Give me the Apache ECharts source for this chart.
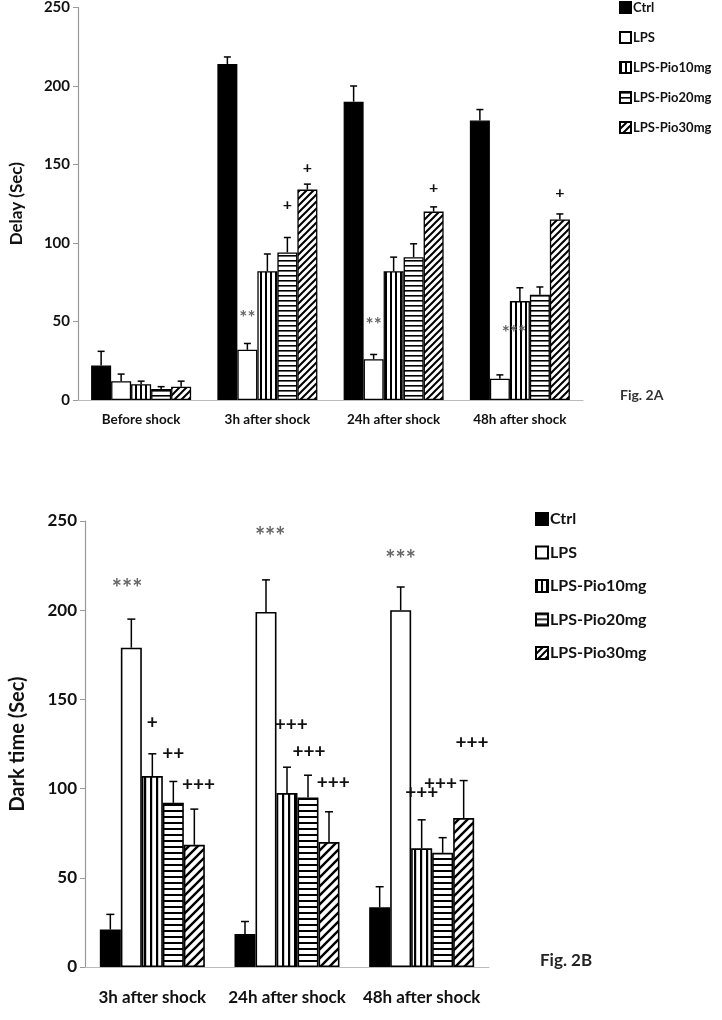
<!DOCTYPE html>
<html><head><meta charset="utf-8">
<script src="https://cdn.jsdelivr.net/npm/echarts@6/dist/echarts.min.js"></script>
<style>html,body{margin:0;padding:0;background:#fff}#c{width:722px;height:1020px}</style>
</head><body><div id="c"></div>
<script>
// ---------- data ----------
const groups = ['Ctrl', 'LPS', 'LPS-Pio10mg', 'LPS-Pio20mg', 'LPS-Pio30mg'];
// Fig. 2A — Delay (Sec)
const catsA = ['Before shock', '3h after shock', '24h after shock', '48h after shock'];
const delayCtrl = [22, 214, 190, 178];
const delayLPS  = [12, 32, 26, 13.5];
const delay10   = [10, 82, 82, 63];
const delay20   = [7, 94, 91, 67];
const delay30   = [8.5, 134, 120, 115];
const delayErrCtrl = [9, 4.5, 10, 7];
const delayErrLPS  = [4.5, 4, 3, 2.5];
const delayErr10   = [2, 11, 9, 8.5];
const delayErr20   = [1.5, 9.5, 8.5, 5];
const delayErr30   = [3.5, 3.5, 3, 3.5];
// annotations A: [category, bar index, level(value), text]
const annotA = [
  [1, 1, 52, '**'], [1, 3, 124, '+'], [1, 4, 148, '+'],
  [2, 1, 48, '**'], [2, 4, 135, '+'],
  [3, 1.7, 43, '***'], [3, 4, 132, '+']
];
// Fig. 2B — Dark time (Sec)
const catsB = ['3h after shock', '24h after shock', '48h after shock'];
const darkCtrl = [21, 18.5, 33.5];
const darkLPS  = [179, 199, 200];
const dark10   = [107, 97.5, 66.5];
const dark20   = [92, 95, 64];
const dark30   = [68.5, 70, 83.5];
const darkErrCtrl = [8.5, 7, 11.5];
const darkErrLPS  = [16, 18, 13];
const darkErr10   = [12.5, 14.5, 16];
const darkErr20   = [12, 12.5, 8.5];
const darkErr30   = [20, 17, 21];
const annotB = [
  [0, 0.8, 212, '***'], [0, 2, 137, '+'], [0, 3, 119.5, '++'], [0, 4.2, 102, '+++'],
  [1, 1.2, 241, '***'], [1, 2.2, 136, '+++'], [1, 3.05, 120.5, '+++'], [1, 4.2, 103, '+++'],
  [2, 1, 228, '***'], [2, 2, 97.5, '+++'], [2, 2.9, 102.5, '+++'], [2, 4.4, 125.5, '+++']
];
const yTicks = [0, 50, 100, 150, 200, 250];

// ---------- patterns ----------
function pat(kind, p, lw) {
  const c = document.createElement('canvas');
  c.width = p; c.height = p;
  const g = c.getContext('2d');
  g.fillStyle = '#fff'; g.fillRect(0, 0, p, p);
  g.fillStyle = '#000'; g.strokeStyle = '#000'; g.lineWidth = lw;
  if (kind === 'v') g.fillRect(0, 0, lw, p);
  else if (kind === 'h') g.fillRect(0, 0, p, lw);
  else {
    g.beginPath();
    g.moveTo(-1, p + 1); g.lineTo(p + 1, -1);
    g.moveTo(-p / 2 - 1, p / 2 + 1); g.lineTo(p / 2 + 1, -p / 2 - 1);
    g.moveTo(p / 2 - 1, p * 1.5 + 1); g.lineTo(p * 1.5 + 1, p / 2 - 1);
    g.stroke();
  }
  return { image: c, repeat: 'repeat' };
}
const fillsA = ['#000', '#fff', pat('v', 5, 2), pat('h', 5, 1.6), pat('d', 7, 2)];
const fillsB = ['#000', '#fff', pat('v', 6, 2.2), pat('h', 6.5, 2), pat('d', 9, 2.4)];

const FONT = 'Lato, "Open Sans", sans-serif';
const valsA = [delayCtrl, delayLPS, delay10, delay20, delay30];
const errsA = [delayErrCtrl, delayErrLPS, delayErr10, delayErr20, delayErr30];
const valsB = [darkCtrl, darkLPS, dark10, dark20, dark30];
const errsB = [darkErrCtrl, darkErrLPS, darkErr10, darkErr20, darkErr30];

function errData(vals, errs) {
  const out = [];
  vals.forEach((arr, s) => arr.forEach((v, c) => out.push([c, s, v, errs[s][c]])));
  return out;
}
function errRender(barW, cap) {
  return function (params, api) {
    const c = api.value(0), s = api.value(1), v = api.value(2), e = api.value(3);
    const p0 = api.coord([c, v]), p1 = api.coord([c, v + e]);
    const x = p0[0] + (s - 2) * barW;
    const st = { stroke: '#000', lineWidth: 1.5 };
    return { type: 'group', children: [
      { type: 'line', shape: { x1: x, y1: p0[1], x2: x, y2: p1[1] }, style: st },
      { type: 'line', shape: { x1: x - cap, y1: p1[1], x2: x + cap, y2: p1[1] }, style: st }
    ]};
  };
}
const annotRef = { annA: annotA, annB: annotB };
function annRender(barW, sizeStar, sizePlus) {
  return function (params, api) {
    const c = api.value(0), b = api.value(1), lv = api.value(2);
    const t = annotRef[params.seriesName][params.dataIndex][3];
    const p = api.coord([c, lv]);
    const star = t.indexOf('*') >= 0;
    return { type: 'text', x: p[0] + (b - 2) * barW, y: p[1],
      style: { text: t, align: 'center', verticalAlign: 'middle',
        font: 'bold ' + (star ? sizeStar : sizePlus) + 'px ' + FONT,
        fill: star ? '#666' : '#111' } };
  };
}

const series = [];
groups.forEach((g, i) => {
  series.push({ name: g, type: 'bar', xAxisIndex: 0, yAxisIndex: 0, data: valsA[i],
    barWidth: 20, barGap: '0%', itemStyle: { color: fillsA[i], borderColor: '#000', borderWidth: 1.3 } });
});
groups.forEach((g, i) => {
  series.push({ name: g, type: 'bar', xAxisIndex: 1, yAxisIndex: 1, data: valsB[i],
    barWidth: 21, barGap: '0%', itemStyle: { color: fillsB[i], borderColor: '#000', borderWidth: 1.6 } });
});
series.push({ name: 'errA', type: 'custom', xAxisIndex: 0, yAxisIndex: 0, data: errData(valsA, errsA),
  encode: { x: 0, y: 2 }, renderItem: errRender(20, 3.5), z: 5, silent: true });
series.push({ name: 'errB', type: 'custom', xAxisIndex: 1, yAxisIndex: 1, data: errData(valsB, errsB),
  encode: { x: 0, y: 2 }, renderItem: errRender(21, 4), z: 5, silent: true });
series.push({ name: 'annA', type: 'custom', xAxisIndex: 0, yAxisIndex: 0, data: annotA.map(a => [a[0], a[1], a[2]]),
  encode: { x: 0, y: 2 }, renderItem: annRender(20, 19, 16), z: 6, silent: true });
series.push({ name: 'annB', type: 'custom', xAxisIndex: 1, yAxisIndex: 1, data: annotB.map(a => [a[0], a[1], a[2]]),
  encode: { x: 0, y: 2 }, renderItem: annRender(21, 24, 19), z: 6, silent: true });

function yAx(gi, name, fs, gap, nfs) {
  return { type: 'value', gridIndex: gi, min: 0, max: 250, interval: 50,
    name: name, nameLocation: 'middle', nameGap: gap,
    nameTextStyle: { fontFamily: FONT, fontWeight: 'bold', fontSize: nfs, color: '#111' },
    axisLine: { show: true, lineStyle: { color: '#999', width: 1.2 } },
    axisTick: { show: true, length: 5, lineStyle: { color: '#999' } },
    axisLabel: { fontFamily: FONT, fontWeight: 'bold', fontSize: fs, color: '#111', margin: 8 },
    splitLine: { show: false } };
}
function xAx(gi, cats, fs, margin) {
  return { type: 'category', gridIndex: gi, data: cats,
    axisLine: { lineStyle: { color: '#bbb', width: 1.2 } }, axisTick: { show: false },
    axisLabel: { fontFamily: FONT, fontWeight: 'bold', fontSize: fs, color: '#111', margin: margin, interval: 0 } };
}
function legend(left, top, fs, gap, isz) {
  return { orient: 'vertical', left: left, top: top, padding: 0, itemWidth: isz, itemHeight: isz, itemGap: gap,
    icon: 'rect', selectedMode: false, data: groups,
    textStyle: { fontFamily: FONT, fontWeight: 'bold', fontSize: fs, color: '#111', padding: [0, 0, 0, -3] } };
}

const chart = echarts.init(document.getElementById('c'));
chart.setOption({
  animation: false,
  backgroundColor: '#fff',
  grid: [
    { left: 69, right: 139, top: 7, bottom: 620 },
    { left: 83, right: 233, top: 521, bottom: 53 }
  ],
  xAxis: [xAx(0, catsA, 13.5, 13), xAx(1, catsB, 17, 22)],
  yAxis: [yAx(0, 'Delay (Sec)', 15, 53, 17), yAx(1, 'Dark time (Sec)', 17, 57, 20)],
  legend: [legend(619, 1, 13, 17, 11), legend(535, 511, 16, 17.5, 12)],
  graphic: [
    { type: 'text', left: 620, top: 388, style: { text: 'Fig. 2A', font: 'bold 14px ' + FONT, fill: '#333' } },
    { type: 'text', left: 540, top: 952, style: { text: 'Fig. 2B', font: 'bold 17px ' + FONT, fill: '#222' } }
  ],
  series: series
});
</script></body></html>
